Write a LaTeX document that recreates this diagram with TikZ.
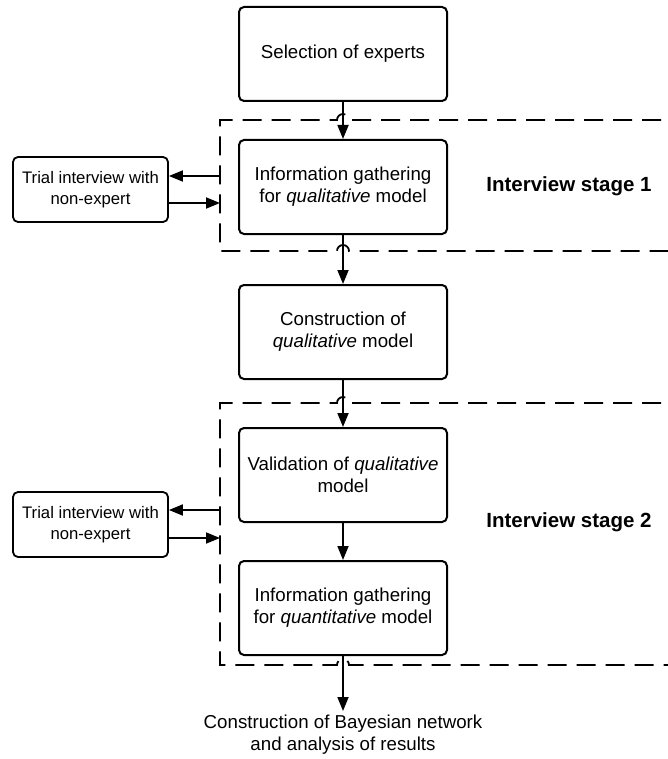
\documentclass[tikz,border=0pt]{standalone}
\usepackage{fontspec}
\setmainfont{Liberation Sans}
\usetikzlibrary{arrows.meta,positioning}
\begin{document}
\begin{tikzpicture}[x=1pt,y=1pt,
  b/.style={draw,line width=2pt,rounded corners=5pt,align=center,font=\fontsize{18.7}{22.3}\selectfont,minimum width=208pt,minimum height=94pt,inner sep=0pt},
  t/.style={draw,line width=1.8pt,rounded corners=5pt,align=center,font=\fontsize{16.7}{20.7}\selectfont,minimum width=155pt,minimum height=65pt,inner sep=0pt},
  st/.style={font=\fontsize{20.5}{24}\selectfont\bfseries},
  fr/.style={line width=1.8pt,dash pattern=on 19pt off 10pt},
  >={Triangle[length=14pt,width=11pt]},node distance=37pt]
\useasboundingbox (0,0) rectangle (667,-759);
\node[b] (sel) at (343,-54) {Selection of experts};
\node[b,below=of sel] (ig1) {Information gathering\\for \textit{qualitative} model};
\node[b,below=49pt of ig1] (cq) {Construction of\\\textit{qualitative} model};
\node[b,below=47pt of cq] (vq) {Validation of \textit{qualitative}\\model};
\node[b,below=of vq] (ig2) {Information gathering\\for \textit{quantitative} model};
\node[below=55pt of ig2,align=center,inner xsep=0pt,inner ysep=4pt,outer sep=0pt,
  font=\fontsize{18.7}{22.3}\selectfont] (bn) {Construction of Bayesian network\\and analysis of results};
\node[t] (tr1) at (90.5,-189.5) {Trial interview with\\non-expert};
\node[t] (tr2) at (90.5,-524.5) {Trial interview with\\non-expert};
\node[st] (s1) at (569,-186) {Interview stage 1};
\node[st] (s2) at (569,-522) {Interview stage 2};
% dashed stage frames, hopping over the arrows
\draw[fr] (690,-120) -- (349,-120) arc[start angle=0,end angle=180,radius=6pt] -- (220,-120) -- (220,-251)
  -- (337,-251) arc[start angle=180,end angle=0,radius=6pt] -- (690,-251);
\draw[fr] (690,-403) -- (349,-403) arc[start angle=0,end angle=180,radius=6pt] -- (220,-403) -- (220,-665)
  -- (337,-665) arc[start angle=180,end angle=0,radius=6pt] -- (690,-665);
\begin{scope}[line width=1.8pt]
\draw[->](sel)--(ig1);\draw[->](ig1)--(cq);\draw[->](cq)--(vq);
\draw[->](vq)--(ig2);\draw[->](ig2)--(bn);
\coordinate (a1) at (220,-176); \coordinate (a2) at (220,-203);
\coordinate (a3) at (220,-510); \coordinate (a4) at (220,-538);
\draw[->](a1)--(a1-|tr1.east);\draw[->](a2-|tr1.east)--(a2);
\draw[->](a3)--(a3-|tr2.east);\draw[->](a4-|tr2.east)--(a4);
\end{scope}
\end{tikzpicture}
\end{document}
